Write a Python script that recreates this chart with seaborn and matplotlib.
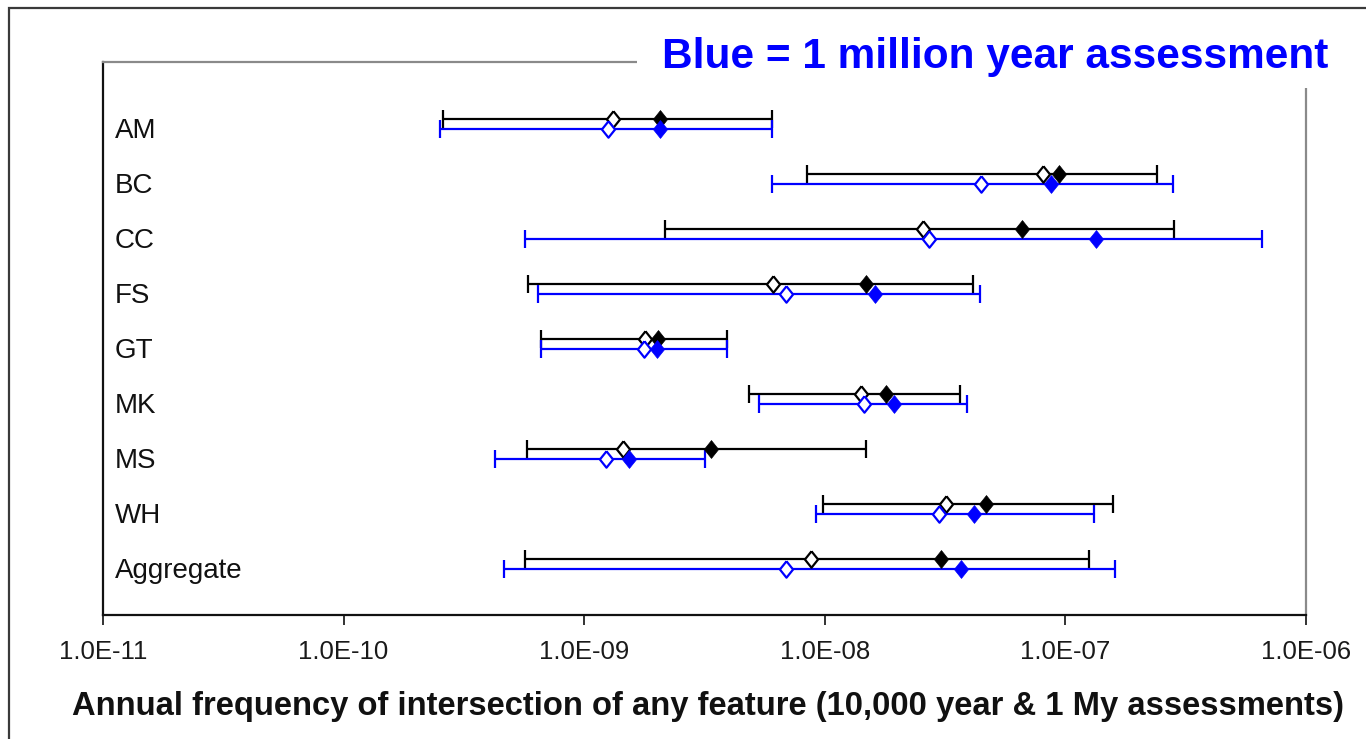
import numpy as np
import pandas as pd
import matplotlib
matplotlib.use("Agg")
import matplotlib.pyplot as plt
import matplotlib.transforms as mtransforms
from matplotlib.patches import Rectangle
from matplotlib.ticker import FixedLocator, NullLocator
import seaborn as sns

# ---------------- data ----------------
categories = ["AM", "BC", "CC", "FS", "GT", "MK", "MS", "WH", "Aggregate"]

# 10,000 year assessment (black)
k10_low    = [2.58e-10, 8.47e-9, 2.17e-9, 5.83e-10, 6.61e-10, 4.82e-9, 5.81e-10, 9.82e-9, 5.69e-10]
k10_median = [1.32e-9, 8.09e-8, 2.56e-8, 6.10e-9, 1.79e-9, 1.41e-8, 1.45e-9, 3.19e-8, 8.73e-9]
k10_mean   = [2.07e-9, 9.39e-8, 6.58e-8, 1.48e-8, 2.03e-9, 1.79e-8, 3.35e-9, 4.68e-8, 3.04e-8]
k10_high   = [6.03e-9, 2.40e-7, 2.84e-7, 4.14e-8, 3.91e-9, 3.66e-8, 1.49e-8, 1.57e-7, 1.25e-7]

# 1 million year assessment (blue)
my_low    = [2.51e-10, 6.04e-9, 5.69e-10, 6.44e-10, 6.61e-10, 5.33e-9, 4.26e-10, 9.18e-9, 4.64e-10]
my_median = [1.26e-9, 4.44e-8, 2.70e-8, 6.89e-9, 1.78e-9, 1.45e-8, 1.23e-9, 2.97e-8, 6.89e-9]
my_mean   = [2.07e-9, 8.71e-8, 1.34e-7, 1.62e-8, 2.00e-9, 1.93e-8, 1.53e-9, 4.17e-8, 3.67e-8]
my_high   = [6.03e-9, 2.79e-7, 6.56e-7, 4.42e-8, 3.91e-9, 3.89e-8, 3.17e-9, 1.31e-7, 1.61e-7]

xticks = [1e-11, 1e-10, 1e-9, 1e-8, 1e-7, 1e-6]
xtick_labels = ["1.0E-11", "1.0E-10", "1.0E-09", "1.0E-08", "1.0E-07", "1.0E-06"]

assessments = ["10,000 year", "1 My"]
colors = {"10,000 year": "#000000", "1 My": "#0000ff"}
offsets = {"10,000 year": -0.09, "1 My": 0.09}

rows = []
for name, lo, md, mn, hi in [
    ("10,000 year", k10_low, k10_median, k10_mean, k10_high),
    ("1 My", my_low, my_median, my_mean, my_high),
]:
    for i, cat in enumerate(categories):
        rows.append(dict(assessment=name, category=cat, ypos=i + offsets[name],
                         low=lo[i], median=md[i], mean=mn[i], high=hi[i]))
df = pd.DataFrame(rows)

# ---------------- style ----------------
sns.set_theme(style="white")
plt.rcParams["font.family"] = ["Liberation Sans", "DejaVu Sans"]

W, H = 1366, 739
fig = plt.figure(figsize=(W / 100, H / 100), dpi=100)
fig.patch.set_facecolor("white")
ax = fig.add_axes([103 / W, 1 - 615 / H, (1306 - 103) / W, (615 - 62) / H])

diamond = [(0, 1), (0.8, 0), (0, -1), (-0.8, 0), (0, 1)]

for name in assessments:
    sub = df[df.assessment == name]
    c = colors[name]
    ax.errorbar(x=sub["median"], y=sub["ypos"],
                xerr=[sub["median"] - sub["low"], sub["high"] - sub["median"]],
                fmt="none", ecolor=c, elinewidth=1.6, capsize=6.5, capthick=1.6, zorder=2)
    sns.scatterplot(data=sub, x="median", y="ypos", marker=diamond, s=140,
                    color="white", edgecolor=c, linewidth=1.6, ax=ax, legend=False, zorder=3)
    sns.scatterplot(data=sub, x="mean", y="ypos", marker=diamond, s=165,
                    color=c, edgecolor=c, linewidth=0.5, ax=ax, legend=False, zorder=4)

ax.set_xscale("log")
ax.set_xlim(1e-11, 1e-6)
ax.set_ylim(8.927, -1.127)
ax.xaxis.set_major_locator(FixedLocator(xticks))
ax.xaxis.set_minor_locator(NullLocator())
ax.set_xticklabels(xtick_labels)
ax.tick_params(axis="x", which="major", direction="out", length=7, width=1.3,
               color="#222222", labelsize=18.5, pad=11, labelcolor="#1a1a1a", bottom=True)
ax.set_yticks([])
ax.set_ylabel("")

for side in ["left", "bottom"]:
    ax.spines[side].set_color("#111111")
    ax.spines[side].set_linewidth(1.6)
for side in ["top", "right"]:
    ax.spines[side].set_color("#8a8a8a")
    ax.spines[side].set_linewidth(1.6)

trans = mtransforms.blended_transform_factory(ax.transAxes, ax.transData)
for i, cat in enumerate(categories):
    ax.text(0.01, i + 0.12, cat, transform=trans, ha="left", va="center",
            fontsize=20, color="#111111")

ax.set_xlabel("Annual frequency of intersection of any feature (10,000 year & 1 My assessments)",
              fontsize=23.6, fontweight="bold", color="#111111")
ax.xaxis.set_label_coords((708.5 - 103) / (1306 - 103), -(691 - 615) / (615 - 62))

# white box behind the annotation (covers part of the top/right frame)
fig.add_artist(Rectangle((637 / W, 1 - 88 / H), 1 - 637 / W, 88 / H,
                         transform=fig.transFigure, facecolor="white",
                         edgecolor="none", zorder=4))
fig.text(1328 / W, 1 - 68 / H, "Blue = 1 million year assessment", ha="right",
         va="baseline", fontsize=30.5, fontweight="bold", color="#0000ff", zorder=6)

# outer frame
fig.add_artist(Rectangle((9 / W, -0.05), 1.2, (1 - 8 / H) + 0.05,
                         transform=fig.transFigure, fill=False,
                         edgecolor="#3a3a3a", linewidth=1.6, zorder=7))

fig.savefig("out.png", dpi=100, facecolor="white")
